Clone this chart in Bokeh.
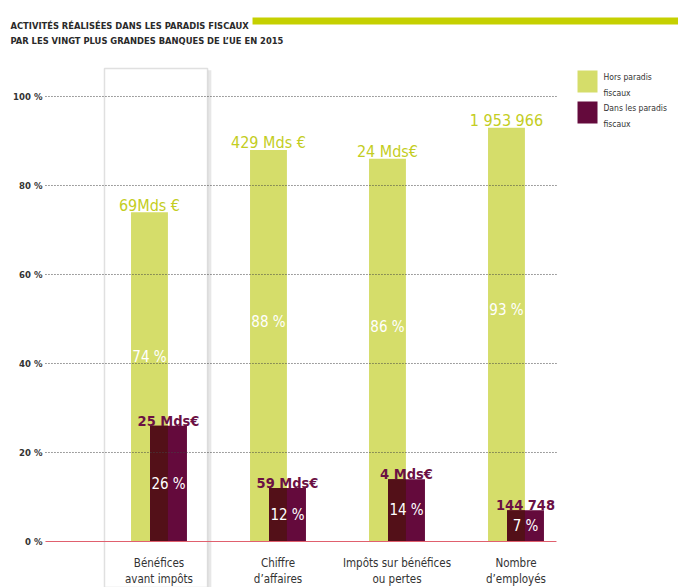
from bokeh.plotting import figure
from bokeh.models import Range1d, BoxAnnotation, Label
from bokeh.core.properties import value
from bokeh.embed import file_html
from bokeh.resources import INLINE

# ---- data ----
categories = ["Bénéfices\navant impôts", "Chiffre\nd’affaires",
              "Impôts sur bénéfices\nou pertes", "Nombre\nd’employés"]
hors_pct = [74, 88, 86, 93]
dans_pct = [26, 12, 14, 7]
hors_amount = ["69Mds €", "429 Mds €", "24 Mds€", "1 953 966"]
dans_amount = ["25 Mds€", "59 Mds€", "4 Mds€", "144 748"]
y_ticks = [0, 20, 40, 60, 80, 100]
legend_labels = ["Hors paradis\nfiscaux", "Dans les paradis\nfiscaux"]
title_lines = ["ACTIVITÉS RÉALISÉES DANS LES PARADIS FISCAUX",
               "PAR LES VINGT PLUS GRANDES BANQUES DE L’UE EN 2015"]

GREEN = "#d5dd6a"
PURPLE = "#640a3c"
DARK = "#531018"
GREEN_TXT = "#c3cd22"
PURPLE_TXT = "#6b1044"
COND = "'DejaVu Sans Condensed', 'Liberation Sans Narrow', 'Roboto Condensed', sans-serif"
F = value(COND)

xs = list(range(len(categories)))
p = figure(width=678, height=587, output_backend="svg", toolbar_location=None,
           x_range=Range1d(-1.3319, 4.3656), y_range=Range1d(-10.337, 121.57),
           x_axis_location=None, y_axis_location=None,
           min_border=0, outline_line_color=None)
p.xgrid.visible = False
p.ygrid.visible = False

# highlighted box (first category) with a soft shadow
p.add_layout(BoxAnnotation(left=0.408, right=0.44, top=105.9, fill_color="#dddddd",
                           fill_alpha=0.7, line_color=None, level="underlay"))
p.add_layout(BoxAnnotation(left=-0.458, right=0.408, top=106.3, fill_color="white",
                           fill_alpha=1, line_color="#999999", line_width=1.5,
                           level="underlay"))

off = 0.08
w = 0.31
p.vbar(x=[x - off for x in xs], top=hors_pct, width=w, bottom=0,
       fill_color=GREEN, line_color=None)
p.vbar(x=[x + off for x in xs], top=dans_pct, width=w, bottom=0,
       fill_color=PURPLE, line_color=None)
p.vbar(x=xs, top=[min(a, b) for a, b in zip(hors_pct, dans_pct)], width=w - 2 * off,
       bottom=0, fill_color=DARK, line_color=None)

# dotted grid and zero line
p.segment(x0=[-0.954] * 5, x1=[3.34] * 5, y0=y_ticks[1:], y1=y_ticks[1:],
          line_color="#444444", line_dash="1 2", line_width=1)
p.segment(x0=[-0.954], x1=[3.34], y0=[0], y1=[0], line_color="#e0606e", line_width=1.2)

# y tick labels
p.text(x=[-0.979] * len(y_ticks), y=y_ticks, text=[f"{t} %" for t in y_ticks],
       text_font=F, text_font_size="9.5px", text_font_style="bold",
       text_color="#333333", text_align="right", text_baseline="middle")

# value labels
p.text(x=[x - off for x in xs], y=[v + 1.6 for v in hors_pct], text=hors_amount,
       text_font=F, text_font_size="16px", text_color=GREEN_TXT,
       text_align="center", text_baseline="alphabetic")
p.text(x=[x + off for x in xs], y=[v + 1.1 for v in dans_pct], text=dans_amount,
       text_font=F, text_font_size="14.5px", text_font_style="bold", text_color=PURPLE_TXT,
       text_align="center", text_baseline="alphabetic")
p.text(x=[x - off for x in xs], y=[v * 0.56 for v in hors_pct],
       text=[f"{v} %" for v in hors_pct], text_font=F, text_font_size="15px",
       text_color="white", text_align="center", text_baseline="middle")
p.text(x=[x + off for x in xs], y=[v * 0.5 for v in dans_pct],
       text=[f"{v} %" for v in dans_pct], text_font=F, text_font_size="15px",
       text_color="white", text_align="center", text_baseline="middle")

# category labels
p.text(x=xs, y=[-3.3] * len(xs), text=categories, text_font=F, text_font_size="11.5px",
       text_color="#333333", text_align="center", text_baseline="top",
       text_line_height=1.1)

# title and rule
for i, line in enumerate(title_lines):
    p.add_layout(Label(x=-1.248, y=115.96 - i * 3.38, text=line, text_font=COND,
                       text_font_size="9.3px", text_font_style="bold",
                       text_color="#2a2a2a", text_baseline="alphabetic"))
p.add_layout(BoxAnnotation(left=0.786, right=4.4, top=117.75, bottom=116.2,
                           fill_color="#c5d000", fill_alpha=1, line_color=None))

# legend
sw_top = [105.84, 98.88]
sw_col = [GREEN, PURPLE]
p.quad(left=[3.517] * 2, right=[3.685] * 2, top=sw_top, bottom=[t - 4.95 for t in sw_top],
       fill_color=sw_col, line_color=None)
p.text(x=[3.735] * 2, y=[t - 0.4 for t in sw_top], text=legend_labels, text_font=F,
       text_font_size="8.5px", text_color="#333333", text_align="left",
       text_baseline="top", text_line_height=1.6)

open("out.html", "w").write(file_html(p, INLINE))
